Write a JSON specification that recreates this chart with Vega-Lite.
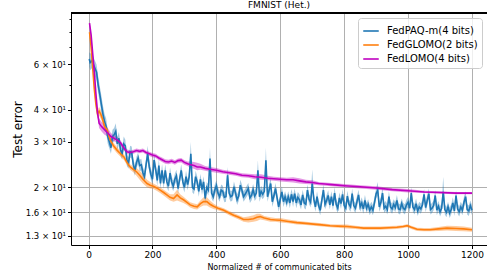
{
"$schema": "https://vega.github.io/schema/vega-lite/v6.json",
"width": 416, "height": 232,
"autosize": {"type": "none"},
"padding": {"left": 71, "top": 13, "right": 0, "bottom": 34},
"title": {"text": "FMNIST (Het.)", "fontSize": 9, "fontWeight": "normal", "font": "DejaVu Sans", "color": "#000", "offset": 3},
"config": {
 "view": {"stroke": null},
 "font": "DejaVu Sans",
 "axis": {"domainColor": "#000", "domainWidth": 1, "tickColor": "#000", "tickWidth": 1, "labelColor": "#000", "titleColor": "#000", "labelFont": "DejaVu Sans", "titleFont": "DejaVu Sans", "labelFontSize": 9, "titleFontWeight": "normal", "gridColor": "#b0b0b0", "gridWidth": 1, "labelOverlap": false},
 "axisX": {"tickSize": 3.5, "labelPadding": 2, "titleFontSize": 8, "titlePadding": 4},
 "axisY": {"labelPadding": 2, "labelFontSize": 8.5, "titleFontSize": 12, "titlePadding": 1},
 "legend": {"orient": "none", "legendX": 287, "legendY": 5, "strokeColor": "#cccccc", "fillColor": "rgba(255,255,255,0.8)", "padding": 4, "cornerRadius": 3, "labelFontSize": 10, "labelFont": "DejaVu Sans", "labelColor": "#000", "symbolType": "stroke", "symbolSize": 240, "symbolStrokeWidth": 1.6, "rowPadding": 0, "labelOffset": 7}
},
"datasets": {
"paq": [
{"x":2,"y":63,"lo":59,"hi":67},{"x":5,"y":61,"lo":57,"hi":66},{"x":10,"y":62,"lo":58,"hi":67},{"x":15,"y":60,"lo":56,"hi":64},{"x":20,"y":58,"lo":54,"hi":62},{"x":25,"y":56,"lo":52,"hi":60},{"x":30,"y":50,"lo":46.5,"hi":54},{"x":35,"y":46,"lo":43,"hi":49.5},{"x":40,"y":42,"lo":39,"hi":45.5},{"x":45,"y":38.5,"lo":36,"hi":41.5},{"x":50,"y":36,"lo":34,"hi":38.5},{"x":55,"y":34.5,"lo":32.5,"hi":37},{"x":60,"y":31.5,"lo":29.5,"hi":33.5},{"x":65,"y":30,"lo":28.3,"hi":32},{"x":70,"y":28.5,"lo":27,"hi":30.5},{"x":75,"y":31.5,"lo":29.7,"hi":33.5},{"x":80,"y":32,"lo":30.2,"hi":34},{"x":85,"y":33,"lo":31,"hi":35.5},{"x":90,"y":29.5,"lo":28,"hi":31.3},{"x":95,"y":31,"lo":29.3,"hi":32.8},
{"x":100,"y":28,"lo":26.6,"hi":29.6},{"x":105,"y":27,"lo":25.6,"hi":28.5},{"x":110,"y":29.5,"lo":28,"hi":31.5},{"x":115,"y":29,"lo":27.5,"hi":30.6},{"x":120,"y":25.5,"lo":24.2,"hi":26.9},{"x":125,"y":24.8,"lo":23.6,"hi":26.1},{"x":130,"y":27.5,"lo":26.1,"hi":29},{"x":135,"y":27.3,"lo":25.9,"hi":28.8},{"x":140,"y":24.5,"lo":23.3,"hi":25.8},{"x":145,"y":23.3,"lo":22.2,"hi":24.5},{"x":150,"y":25,"lo":23.8,"hi":26.3},{"x":155,"y":26,"lo":24.7,"hi":27.4},{"x":160,"y":24.3,"lo":23.1,"hi":25.6},{"x":165,"y":24.5,"lo":23.3,"hi":25.8},{"x":170,"y":22.8,"lo":21.7,"hi":24},{"x":175,"y":22,"lo":21,"hi":23.1},{"x":180,"y":24.5,"lo":23.3,"hi":26},{"x":185,"y":27,"lo":25.5,"hi":29},{"x":190,"y":24,"lo":22.8,"hi":25.3},{"x":195,"y":22.5,"lo":21.4,"hi":23.7},
{"x":200,"y":21.5,"lo":20.5,"hi":22.6},{"x":205,"y":25.5,"lo":24.2,"hi":27},{"x":210,"y":23.5,"lo":22.3,"hi":24.8},{"x":215,"y":21.3,"lo":20.3,"hi":22.4},{"x":220,"y":24.3,"lo":23.1,"hi":25.7},{"x":225,"y":20.7,"lo":19.7,"hi":21.8},{"x":230,"y":23.3,"lo":22.2,"hi":24.6},{"x":235,"y":20.7,"lo":19.7,"hi":21.8},{"x":240,"y":23.3,"lo":22.2,"hi":24.6},{"x":245,"y":21,"lo":20,"hi":22.1},{"x":250,"y":20.2,"lo":19.3,"hi":21.2},{"x":255,"y":22.7,"lo":21.6,"hi":23.9},{"x":260,"y":21,"lo":20,"hi":22.1},{"x":265,"y":20.2,"lo":19.3,"hi":21.2},{"x":270,"y":21.5,"lo":20.5,"hi":22.6},{"x":275,"y":22.2,"lo":21.1,"hi":23.4},{"x":280,"y":19.8,"lo":18.9,"hi":20.8},{"x":285,"y":21.5,"lo":20.5,"hi":22.6},{"x":290,"y":23.3,"lo":22.2,"hi":24.6},{"x":295,"y":21,"lo":20,"hi":22.1},
{"x":300,"y":20,"lo":19.1,"hi":21},{"x":305,"y":22,"lo":21,"hi":23.2},{"x":310,"y":20.5,"lo":19.5,"hi":21.5},{"x":315,"y":22,"lo":21,"hi":23.2},{"x":320,"y":27,"lo":24.5,"hi":30},{"x":325,"y":20,"lo":19.1,"hi":21},{"x":330,"y":19.7,"lo":18.8,"hi":20.7},{"x":335,"y":22,"lo":21,"hi":23.2},{"x":340,"y":21,"lo":20,"hi":22.1},{"x":345,"y":19.3,"lo":18.4,"hi":20.3},{"x":350,"y":21.5,"lo":20.5,"hi":22.6},{"x":355,"y":19.6,"lo":18.7,"hi":20.6},{"x":360,"y":21,"lo":20,"hi":22.1},{"x":365,"y":18.1,"lo":17.3,"hi":19},{"x":370,"y":20,"lo":19.1,"hi":21},{"x":375,"y":19.5,"lo":18.6,"hi":20.5},{"x":380,"y":25.9,"lo":23.5,"hi":28.5},{"x":385,"y":19,"lo":18.1,"hi":20},{"x":390,"y":18.4,"lo":17.6,"hi":19.3},{"x":395,"y":19.5,"lo":18.6,"hi":20.5},
{"x":400,"y":20.3,"lo":19.4,"hi":21.3},{"x":405,"y":19,"lo":18.1,"hi":20},{"x":410,"y":18.4,"lo":17.6,"hi":19.3},{"x":415,"y":19.5,"lo":18.6,"hi":20.5},{"x":420,"y":19.3,"lo":18.4,"hi":20.3},{"x":425,"y":18.3,"lo":17.5,"hi":19.2},{"x":430,"y":18.4,"lo":17.6,"hi":19.3},{"x":435,"y":22.3,"lo":20.8,"hi":24},{"x":440,"y":19,"lo":18.1,"hi":20},{"x":445,"y":18.4,"lo":17.6,"hi":19.3},{"x":450,"y":18.6,"lo":17.8,"hi":19.5},{"x":455,"y":20.1,"lo":19.2,"hi":21.1},{"x":460,"y":19,"lo":18.1,"hi":20},{"x":465,"y":17.9,"lo":17.1,"hi":18.8},{"x":470,"y":18.5,"lo":17.7,"hi":19.4},{"x":475,"y":20.4,"lo":19.5,"hi":21.4},{"x":480,"y":19.5,"lo":18.6,"hi":20.5},{"x":485,"y":18.4,"lo":17.6,"hi":19.3},{"x":490,"y":18.8,"lo":18,"hi":19.7},{"x":495,"y":19.3,"lo":18.4,"hi":20.3},
{"x":500,"y":19.8,"lo":18.9,"hi":20.8},{"x":505,"y":18.2,"lo":17.4,"hi":19.1},{"x":510,"y":18.6,"lo":17.8,"hi":19.5},{"x":515,"y":19.6,"lo":18.7,"hi":20.6},{"x":520,"y":18.5,"lo":17.7,"hi":19.4},{"x":525,"y":19,"lo":18.1,"hi":20},{"x":530,"y":23.3,"lo":21.5,"hi":25.5},{"x":535,"y":18.4,"lo":17.6,"hi":19.3},{"x":540,"y":19.3,"lo":18.4,"hi":20.3},{"x":545,"y":18.8,"lo":18,"hi":19.7},{"x":550,"y":19.3,"lo":18.4,"hi":20.3},{"x":555,"y":25.5,"lo":23,"hi":28.5},{"x":560,"y":18.4,"lo":17.6,"hi":19.3},{"x":565,"y":19.5,"lo":18.6,"hi":20.5},{"x":570,"y":20.7,"lo":19.7,"hi":21.8},{"x":575,"y":17.6,"lo":16.8,"hi":18.5},{"x":580,"y":18.5,"lo":17.7,"hi":19.4},{"x":585,"y":19.8,"lo":18.9,"hi":20.8},{"x":590,"y":18.2,"lo":17.4,"hi":19.1},{"x":595,"y":16.8,"lo":16.1,"hi":17.6},
{"x":600,"y":18,"lo":17.2,"hi":18.9},{"x":605,"y":19.2,"lo":18.3,"hi":20.2},{"x":610,"y":17.6,"lo":16.8,"hi":18.5},{"x":615,"y":18.4,"lo":17.6,"hi":19.3},{"x":620,"y":17.5,"lo":16.7,"hi":18.4},{"x":625,"y":18.4,"lo":17.6,"hi":19.3},{"x":630,"y":17.4,"lo":16.6,"hi":18.3},{"x":635,"y":18.8,"lo":18,"hi":19.7},{"x":640,"y":17.6,"lo":16.8,"hi":18.5},{"x":645,"y":18.9,"lo":18.1,"hi":19.8},{"x":650,"y":17.4,"lo":16.6,"hi":18.3},{"x":655,"y":18.3,"lo":17.5,"hi":19.2},{"x":660,"y":17.9,"lo":17.1,"hi":18.8},{"x":665,"y":17.1,"lo":16.4,"hi":17.9},{"x":670,"y":18.7,"lo":17.9,"hi":19.6},{"x":675,"y":17.4,"lo":16.6,"hi":18.3},{"x":680,"y":17.2,"lo":16.4,"hi":18},{"x":685,"y":19.5,"lo":18.6,"hi":20.5},{"x":690,"y":18,"lo":17.2,"hi":18.9},{"x":695,"y":17.5,"lo":16.7,"hi":18.4},
{"x":700,"y":20.7,"lo":19.3,"hi":23.5},{"x":705,"y":18,"lo":17.2,"hi":18.9},{"x":710,"y":16.8,"lo":16.1,"hi":17.6},{"x":715,"y":18.4,"lo":17.6,"hi":19.3},{"x":720,"y":17,"lo":16.3,"hi":17.8},{"x":725,"y":16.3,"lo":15.6,"hi":17.1},{"x":730,"y":17.8,"lo":17,"hi":18.7},{"x":735,"y":19.5,"lo":18.6,"hi":20.5},{"x":740,"y":17.2,"lo":16.4,"hi":18},{"x":745,"y":17.8,"lo":17,"hi":18.7},{"x":750,"y":18.6,"lo":17.8,"hi":19.5},{"x":755,"y":17.1,"lo":16.4,"hi":17.9},{"x":760,"y":18.4,"lo":17.6,"hi":19.3},{"x":765,"y":17,"lo":16.3,"hi":17.8},{"x":770,"y":19,"lo":18.1,"hi":20},{"x":775,"y":17.2,"lo":16.4,"hi":18},{"x":780,"y":16.6,"lo":15.9,"hi":17.4},{"x":785,"y":18.2,"lo":17.4,"hi":19.1},{"x":790,"y":17.3,"lo":16.5,"hi":18.1},{"x":795,"y":18.8,"lo":18,"hi":19.7},
{"x":800,"y":17,"lo":16.3,"hi":17.8},{"x":805,"y":16.6,"lo":15.9,"hi":17.4},{"x":810,"y":18.5,"lo":17.7,"hi":19.4},{"x":815,"y":17.2,"lo":16.4,"hi":18},{"x":820,"y":16.8,"lo":16.1,"hi":17.6},{"x":825,"y":18.9,"lo":18.1,"hi":19.8},{"x":830,"y":17,"lo":16.3,"hi":17.8},{"x":835,"y":16.6,"lo":15.9,"hi":17.4},{"x":840,"y":17.6,"lo":16.8,"hi":18.5},{"x":845,"y":18.7,"lo":17.9,"hi":19.6},{"x":850,"y":16.8,"lo":16.1,"hi":17.6},{"x":855,"y":17.4,"lo":16.6,"hi":18.3},{"x":860,"y":16.5,"lo":15.8,"hi":17.3},{"x":865,"y":17.8,"lo":17,"hi":18.7},{"x":870,"y":16.6,"lo":15.9,"hi":17.4},{"x":875,"y":17.2,"lo":16.4,"hi":18},{"x":880,"y":16.3,"lo":15.6,"hi":17.1},{"x":885,"y":16.8,"lo":16.1,"hi":17.6},{"x":890,"y":16.3,"lo":15.6,"hi":17.1},{"x":895,"y":17.5,"lo":16.7,"hi":18.4},
{"x":900,"y":18.9,"lo":18.1,"hi":19.8},{"x":905,"y":19.5,"lo":18.6,"hi":21},{"x":910,"y":16.8,"lo":16.1,"hi":17.6},{"x":915,"y":17.5,"lo":16.7,"hi":18.4},{"x":920,"y":19,"lo":18.1,"hi":20},{"x":925,"y":16.6,"lo":15.9,"hi":17.4},{"x":930,"y":16.9,"lo":16.2,"hi":17.7},{"x":935,"y":16.4,"lo":15.7,"hi":17.2},{"x":940,"y":18.4,"lo":17.6,"hi":19.3},{"x":945,"y":16.8,"lo":16.1,"hi":17.6},{"x":950,"y":16.5,"lo":15.8,"hi":17.3},{"x":955,"y":17.2,"lo":16.4,"hi":18},{"x":960,"y":16.7,"lo":16,"hi":17.5},{"x":965,"y":17.8,"lo":17,"hi":18.7},{"x":970,"y":16.5,"lo":15.8,"hi":17.3},{"x":975,"y":16.4,"lo":15.7,"hi":17.2},{"x":980,"y":17.3,"lo":16.5,"hi":18.1},{"x":985,"y":16.6,"lo":15.9,"hi":17.4},{"x":990,"y":16.4,"lo":15.7,"hi":17.2},{"x":995,"y":17.1,"lo":16.4,"hi":17.9},
{"x":1000,"y":17.5,"lo":16.7,"hi":18.4},{"x":1005,"y":16.6,"lo":15.9,"hi":17.4},{"x":1010,"y":19,"lo":18.1,"hi":20},{"x":1015,"y":16.8,"lo":16.1,"hi":17.6},{"x":1020,"y":16.4,"lo":15.7,"hi":17.2},{"x":1025,"y":17.3,"lo":16.5,"hi":18.1},{"x":1030,"y":16.2,"lo":15.5,"hi":17},{"x":1035,"y":16.8,"lo":16.1,"hi":17.6},{"x":1040,"y":16.5,"lo":15.8,"hi":17.3},{"x":1045,"y":17.1,"lo":16.4,"hi":17.9},{"x":1050,"y":18.8,"lo":18,"hi":19.7},{"x":1055,"y":16.7,"lo":16,"hi":17.5},{"x":1060,"y":17.8,"lo":17,"hi":18.7},{"x":1065,"y":18.9,"lo":18.1,"hi":19.8},{"x":1070,"y":16.4,"lo":15.7,"hi":17.2},{"x":1075,"y":16.6,"lo":15.9,"hi":17.4},{"x":1080,"y":17,"lo":16.3,"hi":17.8},{"x":1085,"y":18.6,"lo":17.8,"hi":19.5},{"x":1090,"y":16.3,"lo":15.6,"hi":17.1},{"x":1095,"y":16.9,"lo":16.2,"hi":17.7},
{"x":1100,"y":16.1,"lo":15.4,"hi":16.9},{"x":1105,"y":16.6,"lo":15.9,"hi":17.4},{"x":1110,"y":19.2,"lo":18.2,"hi":22},{"x":1115,"y":16.4,"lo":15.7,"hi":17.2},{"x":1120,"y":16,"lo":15.3,"hi":16.8},{"x":1125,"y":16.8,"lo":16.1,"hi":17.6},{"x":1130,"y":15.9,"lo":15.2,"hi":16.7},{"x":1135,"y":16.4,"lo":15.7,"hi":17.2},{"x":1140,"y":17.4,"lo":16.6,"hi":18.3},{"x":1145,"y":16.2,"lo":15.5,"hi":17},{"x":1150,"y":18.6,"lo":17.8,"hi":19.5},{"x":1155,"y":16.5,"lo":15.8,"hi":17.3},{"x":1160,"y":16.1,"lo":15.4,"hi":16.9},{"x":1165,"y":16.8,"lo":16.1,"hi":17.6},{"x":1170,"y":16.3,"lo":15.6,"hi":17.1},{"x":1175,"y":17.5,"lo":16.7,"hi":18.4},{"x":1180,"y":18.4,"lo":17.6,"hi":19.3},{"x":1185,"y":16.4,"lo":15.7,"hi":17.2},{"x":1190,"y":16.2,"lo":15.5,"hi":17},{"x":1195,"y":17,"lo":16.3,"hi":17.8},{"x":1200,"y":16.3,"lo":15.6,"hi":17.1}
],
"glomo": [
{"x":3,"y":80,"lo":78,"hi":82},{"x":8,"y":70,"lo":68,"hi":72},{"x":13,"y":58,"lo":56.5,"hi":59.5},{"x":18,"y":48,"lo":46.5,"hi":49.5},{"x":23,"y":42,"lo":40.5,"hi":43.5},{"x":28,"y":38.5,"lo":37,"hi":40},{"x":33,"y":39.5,"lo":38,"hi":41},{"x":38,"y":38.5,"lo":37,"hi":40},{"x":43,"y":37,"lo":35.8,"hi":38.2},{"x":50,"y":34.5,"lo":33.5,"hi":35.5},{"x":58,"y":33.4,"lo":32.4,"hi":34.4},{"x":68,"y":30.5,"lo":29.6,"hi":31.4},{"x":78,"y":29,"lo":28.2,"hi":29.8},{"x":89,"y":27.9,"lo":27.1,"hi":28.7},{"x":100,"y":27,"lo":26.3,"hi":27.7},{"x":110,"y":26.3,"lo":25.6,"hi":27},{"x":120,"y":25,"lo":24.4,"hi":25.6},{"x":130,"y":24,"lo":23.4,"hi":24.6},{"x":140,"y":23.5,"lo":22.9,"hi":24.1},{"x":150,"y":23,"lo":22.2,"hi":23.8},{"x":160,"y":22.3,"lo":21.4,"hi":23.2},{"x":170,"y":21.5,"lo":20.7,"hi":22.5},{"x":183,"y":20.7,"lo":20,"hi":21.4},{"x":193,"y":20.4,"lo":19.8,"hi":21},{"x":203,"y":20.2,"lo":19.7,"hi":20.7},{"x":213,"y":19.9,"lo":19.4,"hi":20.4},{"x":224,"y":19.5,"lo":19,"hi":20},{"x":235,"y":19.1,"lo":18.6,"hi":19.6},{"x":245,"y":18.7,"lo":18.2,"hi":19.2},{"x":255,"y":18.3,"lo":17.8,"hi":18.8},{"x":266,"y":18.1,"lo":17.6,"hi":18.8},{"x":277,"y":18.7,"lo":17.8,"hi":19.6},{"x":287,"y":18.2,"lo":17.6,"hi":18.8},{"x":297,"y":17.9,"lo":17.4,"hi":18.4},{"x":308,"y":17.5,"lo":17.1,"hi":17.9},{"x":318,"y":17.1,"lo":16.7,"hi":17.5},{"x":330,"y":16.9,"lo":16.5,"hi":17.3},{"x":340,"y":16.8,"lo":16.4,"hi":17.2},{"x":350,"y":17.3,"lo":16.8,"hi":17.8},{"x":360,"y":17.6,"lo":17,"hi":18.3},{"x":370,"y":17.6,"lo":17,"hi":18.3},{"x":380,"y":17.2,"lo":16.7,"hi":17.8},{"x":391,"y":16.9,"lo":16.5,"hi":17.3},{"x":405,"y":16.6,"lo":16.3,"hi":16.9},{"x":423,"y":16.3,"lo":16,"hi":16.6},{"x":440,"y":15.9,"lo":15.6,"hi":16.2},{"x":454,"y":15.6,"lo":15.3,"hi":15.9},{"x":470,"y":15.3,"lo":15,"hi":15.6},{"x":485,"y":15,"lo":14.7,"hi":15.3},{"x":500,"y":15,"lo":14.6,"hi":15.4},{"x":516,"y":15.1,"lo":14.7,"hi":15.6},{"x":527,"y":15.3,"lo":14.8,"hi":15.8},{"x":537,"y":15.4,"lo":15,"hi":15.8},{"x":550,"y":15.2,"lo":14.9,"hi":15.5},{"x":569,"y":15,"lo":14.7,"hi":15.3},{"x":585,"y":14.95,"lo":14.7,"hi":15.2},{"x":600,"y":14.9,"lo":14.6,"hi":15.2},{"x":625,"y":14.75,"lo":14.5,"hi":15},{"x":652,"y":14.6,"lo":14.35,"hi":14.85},{"x":680,"y":14.5,"lo":14.3,"hi":14.7},{"x":704,"y":14.4,"lo":14.2,"hi":14.6},{"x":730,"y":14.3,"lo":14.1,"hi":14.5},{"x":756,"y":14.2,"lo":14,"hi":14.4},{"x":780,"y":14.15,"lo":13.95,"hi":14.35},{"x":809,"y":14.1,"lo":13.85,"hi":14.35},{"x":835,"y":14,"lo":13.8,"hi":14.2},{"x":861,"y":13.9,"lo":13.7,"hi":14.1},{"x":890,"y":13.9,"lo":13.7,"hi":14.1},{"x":913,"y":13.9,"lo":13.7,"hi":14.1},{"x":940,"y":13.95,"lo":13.75,"hi":14.15},{"x":965,"y":14,"lo":13.8,"hi":14.2},{"x":985,"y":14.1,"lo":13.9,"hi":14.3},{"x":997,"y":14.2,"lo":14,"hi":14.4},{"x":1010,"y":14,"lo":13.8,"hi":14.2},{"x":1028,"y":13.75,"lo":13.55,"hi":13.95},{"x":1050,"y":13.7,"lo":13.5,"hi":13.9},{"x":1069,"y":13.7,"lo":13.5,"hi":13.9},{"x":1095,"y":13.8,"lo":13.55,"hi":14.05},{"x":1122,"y":13.9,"lo":13.6,"hi":14.2},{"x":1150,"y":13.85,"lo":13.55,"hi":14.15},{"x":1174,"y":13.8,"lo":13.5,"hi":14.1},{"x":1200,"y":13.7,"lo":13.45,"hi":13.95}
],
"lomo": [
{"x":3,"y":86.7,"lo":85,"hi":88.5},{"x":8,"y":78,"lo":76.5,"hi":79.5},{"x":13,"y":66,"lo":64.5,"hi":67.5},{"x":18,"y":56,"lo":54.5,"hi":57.5},{"x":23,"y":46,"lo":44.5,"hi":47.5},{"x":28,"y":39,"lo":37.5,"hi":40.5},{"x":33,"y":35.5,"lo":34,"hi":37},{"x":40,"y":34.5,"lo":33,"hi":36},{"x":50,"y":33.5,"lo":32,"hi":35},{"x":60,"y":32.5,"lo":31.5,"hi":34},{"x":70,"y":31.5,"lo":30.5,"hi":32.5},{"x":80,"y":31,"lo":30.2,"hi":31.8},{"x":90,"y":30.5,"lo":29.7,"hi":31.3},{"x":100,"y":29.8,"lo":29.1,"hi":30.5},{"x":110,"y":28.5,"lo":27.9,"hi":29.1},{"x":120,"y":27.5,"lo":26.9,"hi":28.1},{"x":130,"y":27.3,"lo":26.8,"hi":27.8},{"x":140,"y":27.5,"lo":27,"hi":28},{"x":150,"y":27.8,"lo":27.3,"hi":28.3},{"x":160,"y":27.6,"lo":27.1,"hi":28.1},{"x":170,"y":27.8,"lo":27.3,"hi":28.3},{"x":180,"y":27.3,"lo":26.8,"hi":27.8},{"x":190,"y":27,"lo":26.5,"hi":27.5},{"x":200,"y":26.7,"lo":26.2,"hi":27.2},{"x":210,"y":26.5,"lo":26,"hi":27},{"x":220,"y":26,"lo":25.5,"hi":26.5},{"x":230,"y":25.6,"lo":25.1,"hi":26.1},{"x":240,"y":25.2,"lo":24.7,"hi":25.7},{"x":250,"y":25.1,"lo":24.6,"hi":25.6},{"x":260,"y":25.3,"lo":24.8,"hi":25.8},{"x":270,"y":25,"lo":24.5,"hi":25.5},{"x":280,"y":25.4,"lo":24.9,"hi":25.9},{"x":290,"y":25.5,"lo":25,"hi":26},{"x":300,"y":25,"lo":24.5,"hi":25.5},{"x":310,"y":24.7,"lo":24.2,"hi":25.2},{"x":320,"y":24.5,"lo":23.8,"hi":25.2},{"x":330,"y":24.3,"lo":23.6,"hi":25.1},{"x":340,"y":24,"lo":23.3,"hi":24.9},{"x":350,"y":24,"lo":23.4,"hi":24.7},{"x":365,"y":23.7,"lo":23.2,"hi":24.2},{"x":380,"y":23.5,"lo":23,"hi":24},{"x":400,"y":23.3,"lo":22.8,"hi":23.8},{"x":420,"y":23,"lo":22.6,"hi":23.4},{"x":440,"y":22.8,"lo":22.4,"hi":23.2},{"x":460,"y":22.6,"lo":22.2,"hi":23},{"x":480,"y":22.3,"lo":21.9,"hi":22.7},{"x":500,"y":22.2,"lo":21.8,"hi":22.6},{"x":520,"y":22,"lo":21.5,"hi":22.5},{"x":540,"y":21.9,"lo":21.4,"hi":22.5},{"x":560,"y":21.7,"lo":21.3,"hi":22.2},{"x":580,"y":21.6,"lo":21.2,"hi":22},{"x":600,"y":21.5,"lo":21.1,"hi":21.9},{"x":620,"y":21.4,"lo":21,"hi":21.8},{"x":640,"y":21.4,"lo":20.9,"hi":21.9},{"x":660,"y":21.2,"lo":20.7,"hi":21.7},{"x":680,"y":21,"lo":20.6,"hi":21.4},{"x":700,"y":20.9,"lo":20.5,"hi":21.3},{"x":720,"y":20.7,"lo":20.4,"hi":21},{"x":740,"y":20.6,"lo":20.3,"hi":20.9},{"x":760,"y":20.5,"lo":20.2,"hi":20.8},{"x":780,"y":20.4,"lo":20.1,"hi":20.7},{"x":800,"y":20.3,"lo":20,"hi":20.6},{"x":850,"y":20.1,"lo":19.8,"hi":20.4},{"x":900,"y":19.9,"lo":19.6,"hi":20.2},{"x":950,"y":19.6,"lo":19.3,"hi":19.9},{"x":1000,"y":19.4,"lo":19.1,"hi":19.7},{"x":1050,"y":19.2,"lo":19,"hi":19.4},{"x":1100,"y":19.1,"lo":18.9,"hi":19.3},{"x":1150,"y":19,"lo":18.8,"hi":19.2},{"x":1200,"y":19,"lo":18.8,"hi":19.2}
]
},
"encoding": {
 "x": {"field": "x", "type": "quantitative", "scale": {"domain": [-55, 1247], "nice": false, "zero": false}, "axis": {"values": [0, 200, 400, 600, 800, 1000, 1200], "format": "d", "title": "Normalized # of communicated bits", "grid": true}},
 "y": {"field": "y", "type": "quantitative", "scale": {"type": "log", "domain": [11.95, 95], "nice": false}, "axis": {"values": [13, 16, 20, 30, 40, 50, 60, 70, 80, 90], "labelExpr": "datum.value==13?'1.3 × 10¹':datum.value==16?'1.6 × 10¹':datum.value==20?'2 × 10¹':datum.value==30?'3 × 10¹':datum.value==40?'4 × 10¹':datum.value==60?'6 × 10¹':''", "title": "Test error", "grid": true, "gridOpacity": {"condition": {"test": "datum.value <= 20", "value": 1}, "value": 0}, "tickSize": {"condition": {"test": "datum.value == 50 || datum.value >= 70", "value": 2}, "value": 3.5}}}
},
"layer": [
{"data": {"name": "paq"}, "mark": {"type": "area", "color": "#1f77b4", "opacity": 0.4},
 "encoding": {"y": {"field": "lo", "type": "quantitative", "scale": {"type": "log", "domain": [11.95, 95], "nice": false}, "title": "Test error"}, "y2": {"field": "hi"}}},
{"data": {"name": "glomo"}, "mark": {"type": "area", "color": "#ff7f0e", "opacity": 0.4},
 "encoding": {"y": {"field": "lo", "type": "quantitative", "scale": {"type": "log", "domain": [11.95, 95], "nice": false}, "title": "Test error"}, "y2": {"field": "hi"}}},
{"data": {"name": "lomo"}, "mark": {"type": "area", "color": "#bf00bf", "opacity": 0.4},
 "encoding": {"y": {"field": "lo", "type": "quantitative", "scale": {"type": "log", "domain": [11.95, 95], "nice": false}, "title": "Test error"}, "y2": {"field": "hi"}}},
{"data": {"name": "paq"}, "mark": {"type": "line", "strokeWidth": 1.6},
 "encoding": {
  "color": {"datum": "FedPAQ-m(4 bits)", "type": "nominal", "scale": {"domain": ["FedPAQ-m(4 bits)", "FedGLOMO(2 bits)", "FedLOMO(4 bits)"], "range": ["#1f77b4", "#ff7f0e", "#bf00bf"]}, "legend": {"title": null}}}},
{"data": {"name": "glomo"}, "mark": {"type": "line", "strokeWidth": 1.6},
 "encoding": {"color": {"datum": "FedGLOMO(2 bits)", "type": "nominal", "legend": {"title": null}}}},
{"data": {"name": "lomo"}, "mark": {"type": "line", "strokeWidth": 1.6},
 "encoding": {"color": {"datum": "FedLOMO(4 bits)", "type": "nominal", "legend": {"title": null}}}},
{"data": {"name": "lomo"}, "mark": {"type": "rule", "color": "#000", "strokeWidth": 1},
 "encoding": {"x": null, "y": {"datum": 95, "type": "quantitative", "scale": {"type": "log", "domain": [11.95, 95], "nice": false}, "title": "Test error"}}}
]
}
